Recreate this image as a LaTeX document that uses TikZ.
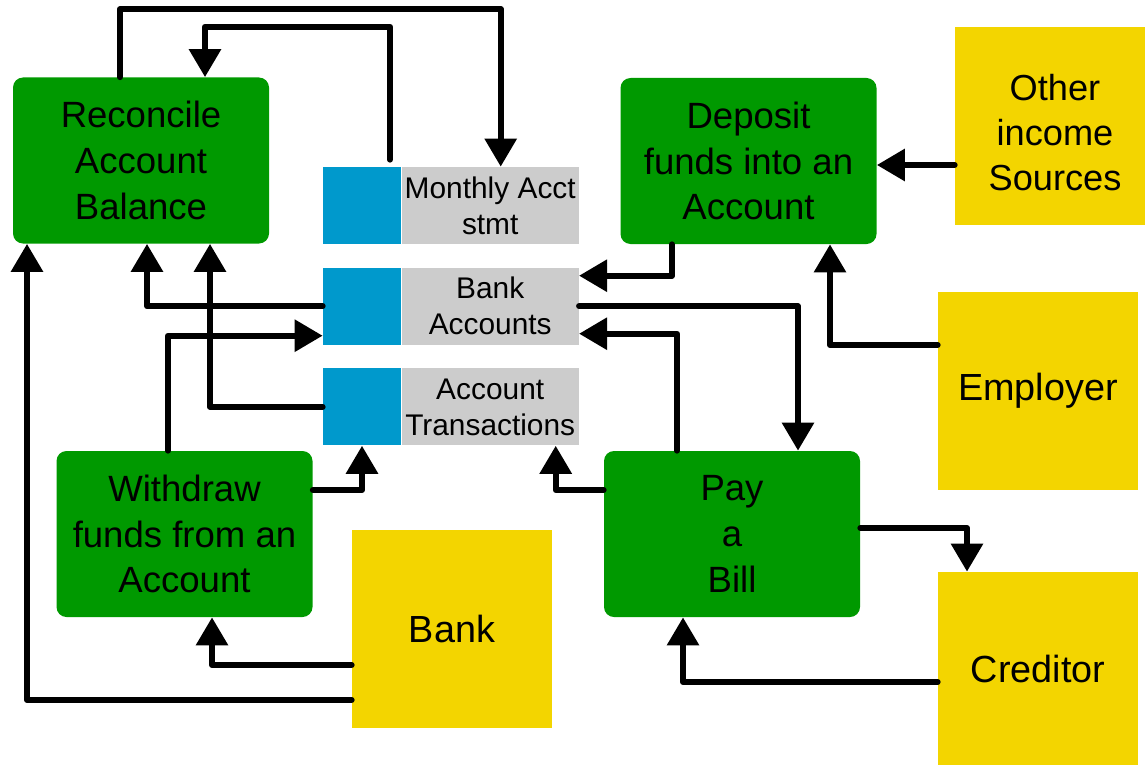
\documentclass[tikz,border=0pt]{standalone}
\usepackage{fontspec}
\setmainfont{Liberation Sans}
\usepackage{tikz}
\usetikzlibrary{arrows.meta,calc,positioning,shapes}

\definecolor{procgreen}{HTML}{009900}
\definecolor{extyellow}{HTML}{F3D500}
\definecolor{storeblue}{HTML}{0099CC}
\definecolor{storegray}{HTML}{CCCCCC}

\begin{document}
\begin{tikzpicture}[auto,>={Triangle[length=0.56cm,width=0.62cm]}]
	\tikzstyle{process} = [fill=procgreen, rectangle, rounded corners=0.2cm, minimum width=5.12cm, minimum height=3.32cm, align=center, inner sep=0pt, font=\fontsize{20.8}{26}\selectfont]
	\tikzstyle{entity} = [fill=extyellow, rectangle, minimum width=4cm, minimum height=3.96cm, align=center, inner sep=0pt, font=\fontsize{21.5}{25.6}\selectfont]
	\tikzstyle{storetab} = [fill=storeblue, rectangle, minimum width=1.56cm, minimum height=1.54cm, inner sep=0pt]
	\tikzstyle{storename} = [fill=storegray, rectangle, minimum width=3.54cm, minimum height=1.54cm, align=center, inner sep=0pt, font=\fontsize{17}{20.5}\selectfont]
	\tikzstyle{flow} = [->, line width=0.12cm, line cap=round, line join=round]

	\useasboundingbox (0,0) rectangle (22.9,-15.3);

	\node [process] (rec) at (2.82,-3.21) {Reconcile\\Account\\Balance};
	\node [process] (dep) at (14.97,-3.22) {Deposit\\funds into an\\Account};
	\node [process] (wdr) at (3.69,-10.68) {Withdraw\\funds from an\\Account};
	\node [process] (pay) at (14.64,-10.68) {Pay\\a\\Bill};

	\node [entity] (oth) at (21.1,-2.52) {};
	\node [align=center, inner sep=0pt, font=\fontsize{20.6}{25.6}\selectfont] (othtext) at ([yshift=-0.14cm]oth.center) {Other\\income\\Sources};
	\node [entity] (emp) at (20.76,-7.82) {Employer};
	\node [entity, minimum height=3.86cm] (cre) at (20.76,-13.37) {Creditor};
	\node [entity] (bnk) at (9.04,-12.58) {Bank};

	\node [storetab] (mblue) at (7.24,-4.11) {};
	\node [storename, right = 0pt of mblue] (mgray) {Monthly Acct\\stmt};
	\node [storetab, below = 0.46cm of mblue] (ablue) {};
	\node [storename, right = 0pt of ablue] (agray) {Bank\\Accounts};
	\node [storetab, below = 0.46cm of ablue] (tblue) {};
	\node [storename, right = 0pt of tblue] (tgray) {Account\\Transactions};

	\draw [flow] ([xshift=-0.42cm]rec.north) -- ++(0,1.36) -| ([xshift=0.21cm]mgray.north);
	\draw [flow] ([xshift=0.56cm,yshift=0.14cm]mblue.north) -- ++(0,2.66) -| ([xshift=1.28cm]rec.north);
	\draw [flow] (ablue.west) -| ([xshift=0.12cm]rec.south);
	\draw [flow] (tblue.west) -| ([xshift=1.38cm]rec.south);
	\draw [flow] ([yshift=-1.42cm]bnk.west) -| ([xshift=-2.28cm]rec.south);
	\draw [flow] ([xshift=-0.33cm]wdr.north) |- ([yshift=-0.59cm]ablue.west);
	\draw [flow] ([yshift=0.88cm]wdr.east) -| (tblue.south);
	\draw [flow] ([yshift=-0.72cm]bnk.west) -| ([xshift=0.55cm]wdr.south);
	\draw [flow] ([xshift=-1.53cm]dep.south) |- ([yshift=0.61cm]agray.east);
	\draw [flow] (agray.east) -| ([xshift=1.32cm]pay.north);
	\draw [flow] ([xshift=-1.10cm]pay.north) |- ([yshift=-0.55cm]agray.east);
	\draw [flow] ([yshift=0.88cm]pay.west) -| ([xshift=1.31cm]tgray.south);
	\draw [flow] ([yshift=-0.78cm]oth.west) -- ([yshift=-0.78cm]oth.west -| dep.east);
	\draw [flow] ([yshift=0.92cm]emp.west) -| ([xshift=1.63cm]dep.south);
	\draw [flow] ([yshift=0.12cm]pay.east) -| ([xshift=-1.42cm]cre.north);
	\draw [flow] ([yshift=-0.27cm]cre.west) -| ([xshift=-0.98cm]pay.south);
\end{tikzpicture}
\end{document}
